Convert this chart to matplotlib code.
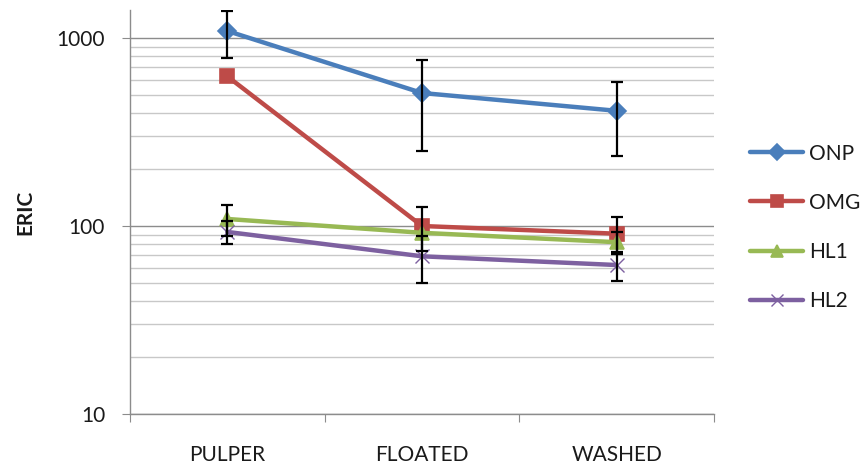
import matplotlib
matplotlib.use("Agg")
import matplotlib.pyplot as plt
from matplotlib.ticker import LogLocator, NullFormatter, FixedLocator
import numpy as np

plt.rcParams['font.family'] = ['Lato', 'DejaVu Sans']

stages = ["PULPER", "FLOATED", "WASHED"]

onp = [1090, 510, 410]
onp_err = [310, 258, 175]

omg = [625, 100, 91]
omg_err = [0, 26, 20]

hl1 = [109, 92, 82]
hl1_err = [20, 0, 11]

hl2 = [93, 69, 62]
hl2_err = [13, 19, 11]

series = [
    ("ONP", onp, onp_err, "#4A7EBB", "D", 9),
    ("OMG", omg, omg_err, "#BE4B48", "s", 10),
    ("HL1", hl1, hl1_err, "#98B954", "^", 10),
    ("HL2", hl2, hl2_err, "#7D60A0", "x", 10),
]

TXT = "#1a1a1a"
FS = 15

fig = plt.figure(figsize=(8.67, 4.68), dpi=100)
ax = fig.add_axes([0.150, 0.1154, 0.6735, 0.8632])

x = np.arange(len(stages)) + 0.5

for name, vals, errs, color, marker, ms in series:
    ax.plot(x, vals, color=color, lw=3.2, marker=marker, ms=ms,
            markeredgecolor=color, markerfacecolor=color,
            markeredgewidth=1.2 if marker != "x" else 1.0,
            label=name, zorder=3, solid_capstyle="round")

for name, vals, errs, color, marker, ms in series:
    e = np.array(errs, dtype=float)
    mask = e > 0
    ax.errorbar(x[mask], np.array(vals)[mask], yerr=e[mask], fmt="none",
                ecolor="black", elinewidth=1.6, capsize=4.5, capthick=1.6,
                zorder=4)

ax.set_yscale("log")
ax.set_ylim(10, 1409)
ax.set_xlim(0, 3)

ax.yaxis.set_major_locator(FixedLocator([10, 100, 1000]))
ax.set_yticklabels(["10", "100", "1000"])
ax.yaxis.set_minor_locator(LogLocator(base=10, subs=np.arange(2, 10)))
ax.yaxis.set_minor_formatter(NullFormatter())
ax.grid(True, which="major", axis="y", color="#8c8c8c", lw=1.0, zorder=0)
ax.grid(True, which="minor", axis="y", color="#c8c8c8", lw=1.0, zorder=0)

ax.set_xticks([0, 1, 2, 3])
ax.set_xticklabels([])
ax.set_xticks(x, minor=True)
ax.set_xticklabels(stages, minor=True)
ax.tick_params(axis="x", which="major", length=6, color="#8c8c8c", direction="out")
ax.tick_params(axis="x", which="minor", length=0, pad=22, labelsize=FS, labelcolor=TXT)
ax.tick_params(axis="y", which="major", length=6, color="#8c8c8c", labelsize=FS,
               labelcolor=TXT, pad=12)
ax.tick_params(axis="y", which="minor", length=0)

for side in ("top", "right"):
    ax.spines[side].set_visible(False)
for side in ("left", "bottom"):
    ax.spines[side].set_color("#8c8c8c")
    ax.spines[side].set_linewidth(1.0)

ax.set_ylabel("ERIC", fontsize=FS, fontweight="bold", labelpad=15, color=TXT)

leg = ax.legend(loc="center left", bbox_to_anchor=(1.048, 0.462), frameon=False,
                fontsize=FS, handlelength=2.55, handletextpad=0.25,
                labelspacing=1.4, borderaxespad=0, markerscale=0.85)
for t in leg.get_texts():
    t.set_color(TXT)

fig.savefig("out.png", dpi=100)
